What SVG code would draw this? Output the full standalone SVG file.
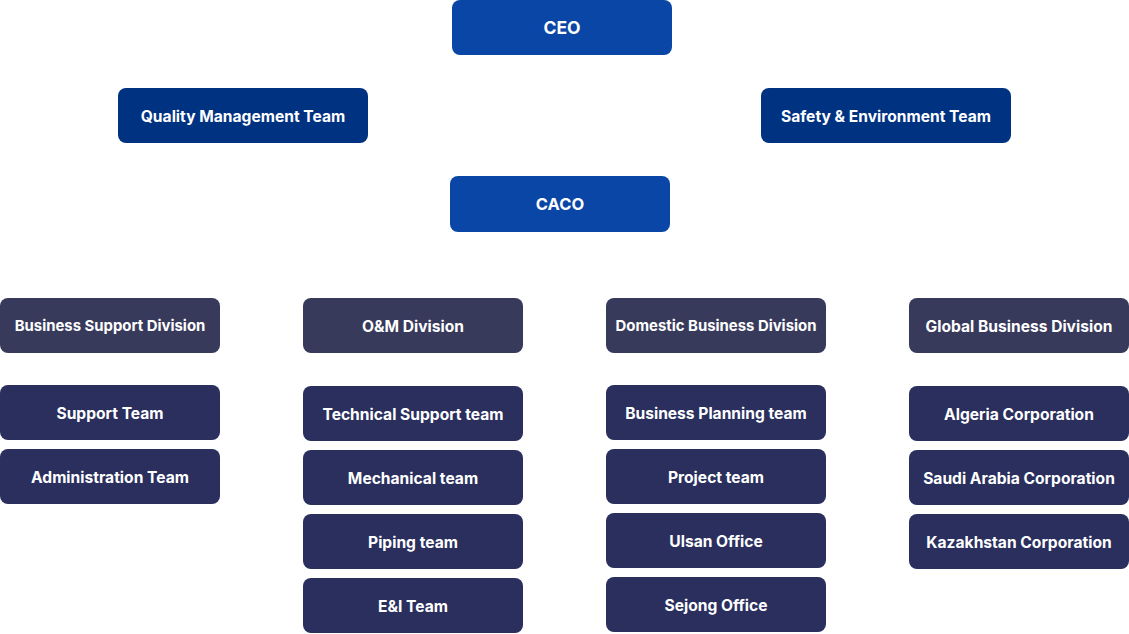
<svg xmlns="http://www.w3.org/2000/svg" width="1129" height="634" viewBox="0 0 1129 634">
<style>
rect{rx:8px;ry:8px}
.top rect{fill:#0a46a6}
.side rect{fill:#003282}
.div rect{fill:#383a5c}
.team rect{fill:#2a2f5e}
text{font-family:Inter,"Liberation Sans",sans-serif;font-weight:700;fill:#fff;text-anchor:middle;dominant-baseline:central;font-size:15.6px}
.div text.s{font-size:14.9px}
</style>
<rect x="0" y="0" width="1129" height="634" fill="#fff" rx="0" ry="0"/>
<g id="ceo" class="top"><rect x="452" y="0" width="220" height="55"/><text x="562" y="27.5" style="font-size:17.5px">CEO</text></g>
<g id="quality" class="side"><rect x="118" y="88" width="250" height="55"/><text x="243" y="116">Quality Management Team</text></g>
<g id="safety" class="side"><rect x="761" y="88" width="250" height="55"/><text x="886" y="116">Safety &amp; Environment Team</text></g>
<g id="caco" class="top"><rect x="450" y="176" width="220" height="56"/><text x="560" y="204" style="font-size:16.5px">CACO</text></g>

<g id="bsd" class="div"><rect x="0" y="298" width="220" height="55"/><text class="s" x="110" y="325.5">Business Support Division</text></g>
<g id="support" class="team"><rect x="0" y="385" width="220" height="55"/><text x="110" y="413">Support Team</text></g>
<g id="admin" class="team"><rect x="0" y="449" width="220" height="55"/><text x="110" y="477">Administration Team</text></g>

<g id="om" class="div"><rect x="303" y="298" width="220" height="55"/><text x="413" y="326">O&amp;M Division</text></g>
<g id="tech" class="team"><rect x="303" y="386" width="220" height="55"/><text x="413" y="414">Technical Support team</text></g>
<g id="mech" class="team"><rect x="303" y="450" width="220" height="55"/><text x="413" y="478">Mechanical team</text></g>
<g id="piping" class="team"><rect x="303" y="514" width="220" height="55"/><text x="413" y="542">Piping team</text></g>
<g id="ei" class="team"><rect x="303" y="578" width="220" height="55"/><text x="413" y="606">E&amp;I Team</text></g>

<g id="dbd" class="div"><rect x="606" y="298" width="220" height="55"/><text class="s" x="716" y="325.5">Domestic Business Division</text></g>
<g id="bpt" class="team"><rect x="606" y="385" width="220" height="55"/><text x="716" y="413">Business Planning team</text></g>
<g id="project" class="team"><rect x="606" y="449" width="220" height="55"/><text x="716" y="477">Project team</text></g>
<g id="ulsan" class="team"><rect x="606" y="513" width="220" height="55"/><text x="716" y="541">Ulsan Office</text></g>
<g id="sejong" class="team"><rect x="606" y="577" width="220" height="55"/><text x="716" y="605">Sejong Office</text></g>

<g id="gbd" class="div"><rect x="909" y="298" width="220" height="55"/><text x="1019" y="326">Global Business Division</text></g>
<g id="algeria" class="team"><rect x="909" y="386" width="220" height="55"/><text x="1019" y="414">Algeria Corporation</text></g>
<g id="saudi" class="team"><rect x="909" y="450" width="220" height="55"/><text x="1019" y="478">Saudi Arabia Corporation</text></g>
<g id="kaz" class="team"><rect x="909" y="514" width="220" height="55"/><text x="1019" y="542">Kazakhstan Corporation</text></g>
<g id="connectors"/>
</svg>
